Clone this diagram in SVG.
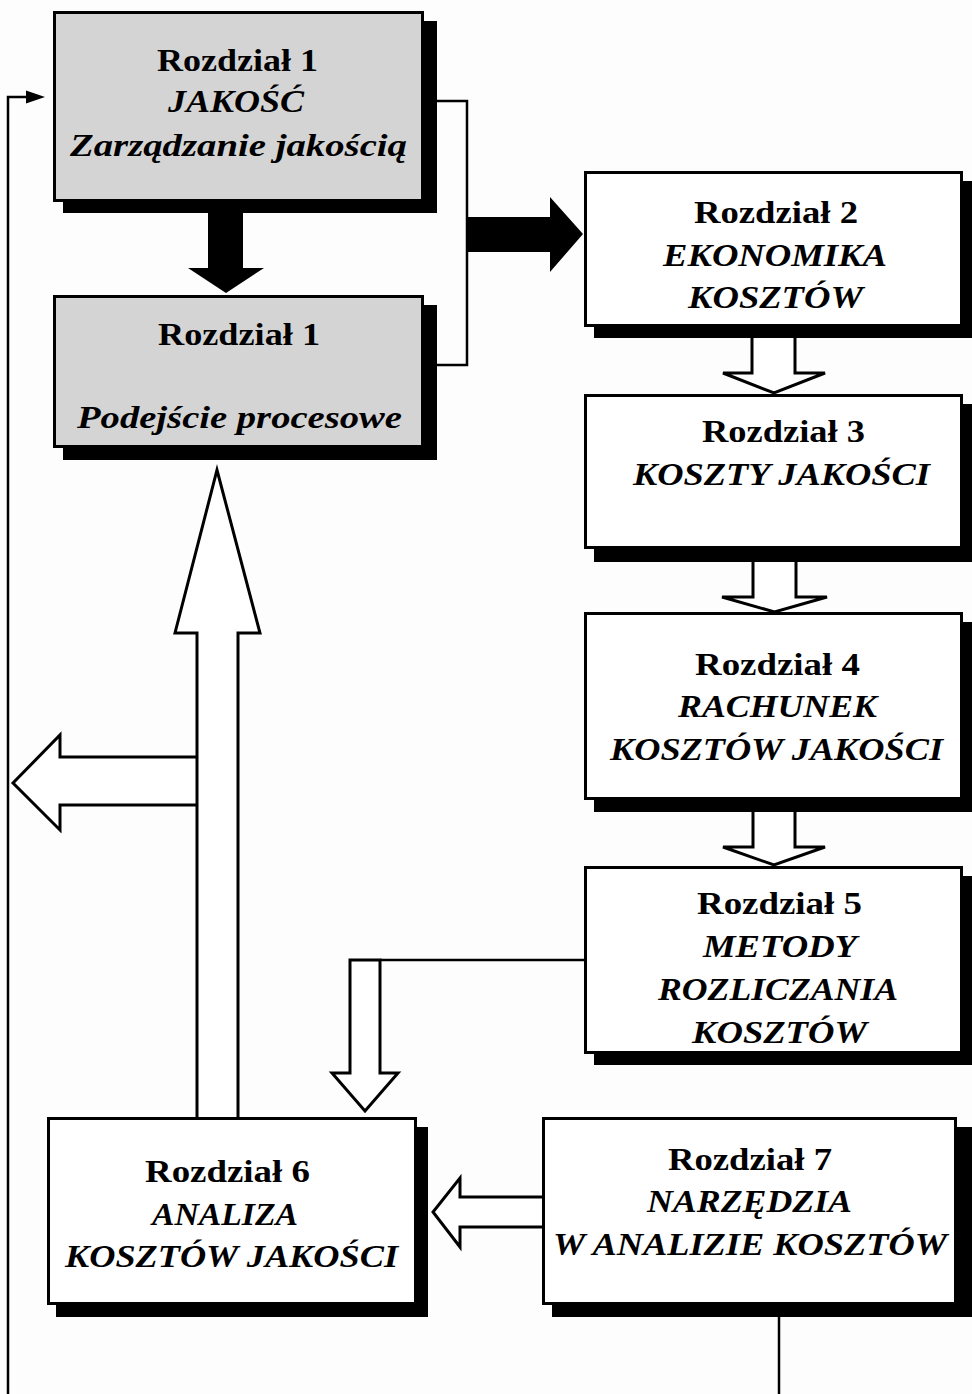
<svg xmlns="http://www.w3.org/2000/svg" width="972" height="1394" viewBox="0 0 972 1394">
<style>
.sh{fill:#000}
.bx{fill:#fff;stroke:#000;stroke-width:3}
.gr{fill:#d4d4d4;stroke:#000;stroke-width:3}
text{font-family:"Liberation Serif","Times New Roman",serif;font-weight:bold;font-size:32px;fill:#000;text-anchor:middle}
.it{font-style:italic}
.ln{fill:none;stroke:#000;stroke-width:2.5}
.ho{fill:#fff;stroke:#000;stroke-width:3;stroke-linejoin:miter}
.so{fill:#000;stroke:none}
</style>
<rect width="972" height="1394" fill="#fdfdfd"/>

<g id="connectors">
  <path class="ln" d="M8,1394 V97 H30"/>
  <polygon class="so" points="45,97 26,90.5 26,103.5"/>
  <path class="ln" d="M779,1317 V1394"/>
  <path class="ln" d="M437,101 H467 V365 H437"/>
  <polygon class="so" points="467,217 550,217 550,197 583,234 550,272 550,252 467,252"/>
  <polygon class="so" points="208,210 243,210 243,268 264,268 226,293 188,268 208,268"/>
  <path class="ho" d="M752,338 V373 H723 L774,393 L825,373 H795 V338"/>
  <path class="ho" d="M753,562 V597 H722 L774.5,612 L827,597 H796 V562"/>
  <path class="ho" d="M753,812 V847 H723 L774,865 L825,847 H795 V812"/>
  <path class="ln" d="M585,960 H380"/>
  <path class="ho" d="M380,960 H350 V1073 H332 L365,1111 L398,1073 H380 Z"/>
  <path class="ho" d="M197,757 H60 V735 L13,783 L60,830 V805 H197"/>
  <path class="ho" d="M197,1117 V633 H175 L217,470 L260,633 H238 V1117"/>
  <path class="ho" d="M542,1197 H460 V1178 L433,1212 L460,1247 V1227 H542"/>
</g>

<g id="node-r1">
  <rect class="sh" x="63" y="21" width="374" height="192"/>
  <rect class="gr" x="54.5" y="12.5" width="368" height="188"/>
  <text x="237.5" y="71" textLength="161" lengthAdjust="spacingAndGlyphs">Rozdział 1</text>
  <text class="it" x="236" y="112" textLength="136" lengthAdjust="spacingAndGlyphs">JAKOŚĆ</text>
  <text class="it" x="238.5" y="156" textLength="337" lengthAdjust="spacingAndGlyphs">Zarządzanie jakością</text>
</g>

<g id="node-r1b">
  <rect class="sh" x="63" y="305" width="374" height="155"/>
  <rect class="gr" x="54.5" y="296.5" width="368" height="150"/>
  <text x="239" y="345" textLength="162" lengthAdjust="spacingAndGlyphs">Rozdział 1</text>
  <text class="it" x="239.5" y="428" textLength="325" lengthAdjust="spacingAndGlyphs">Podejście procesowe</text>
</g>

<g id="node-r2">
  <rect class="sh" x="594" y="181" width="381" height="157"/>
  <rect class="bx" x="585.5" y="172.5" width="376" height="153"/>
  <text x="776" y="223" textLength="164" lengthAdjust="spacingAndGlyphs">Rozdział 2</text>
  <text class="it" x="775" y="266" textLength="224" lengthAdjust="spacingAndGlyphs">EKONOMIKA</text>
  <text class="it" x="775.5" y="308" textLength="175" lengthAdjust="spacingAndGlyphs">KOSZTÓW</text>
</g>

<g id="node-r3">
  <rect class="sh" x="594" y="404" width="381" height="158"/>
  <rect class="bx" x="585.5" y="395.5" width="376" height="152"/>
  <text x="783.5" y="442" textLength="163" lengthAdjust="spacingAndGlyphs">Rozdział 3</text>
  <text class="it" x="781.5" y="485" textLength="297" lengthAdjust="spacingAndGlyphs">KOSZTY JAKOŚCI</text>
</g>

<g id="node-r4">
  <rect class="sh" x="594" y="622" width="381" height="190"/>
  <rect class="bx" x="585.5" y="613.5" width="376" height="185"/>
  <text x="777.5" y="675" textLength="165" lengthAdjust="spacingAndGlyphs">Rozdział 4</text>
  <text class="it" x="777.5" y="717" textLength="199" lengthAdjust="spacingAndGlyphs">RACHUNEK</text>
  <text class="it" x="776.5" y="760" textLength="333" lengthAdjust="spacingAndGlyphs">KOSZTÓW JAKOŚCI</text>
</g>

<g id="node-r5">
  <rect class="sh" x="594" y="876" width="381" height="189"/>
  <rect class="bx" x="585.5" y="867.5" width="376" height="185"/>
  <text x="779.5" y="914" textLength="165" lengthAdjust="spacingAndGlyphs">Rozdział 5</text>
  <text class="it" x="780" y="957" textLength="154" lengthAdjust="spacingAndGlyphs">METODY</text>
  <text class="it" x="778" y="1000" textLength="240" lengthAdjust="spacingAndGlyphs">ROZLICZANIA</text>
  <text class="it" x="779.5" y="1043" textLength="175" lengthAdjust="spacingAndGlyphs">KOSZTÓW</text>
</g>

<g id="node-r6">
  <rect class="sh" x="56" y="1127" width="372" height="190"/>
  <rect class="bx" x="48.5" y="1118.5" width="367" height="185"/>
  <text x="227.5" y="1182" textLength="165" lengthAdjust="spacingAndGlyphs">Rozdział 6</text>
  <text class="it" x="225" y="1225" textLength="146" lengthAdjust="spacingAndGlyphs">ANALIZA</text>
  <text class="it" x="231.5" y="1267" textLength="333" lengthAdjust="spacingAndGlyphs">KOSZTÓW JAKOŚCI</text>
</g>

<g id="node-r7">
  <rect class="sh" x="552" y="1127" width="420" height="190"/>
  <rect class="bx" x="543.5" y="1118.5" width="412" height="185"/>
  <text x="750" y="1170" textLength="164" lengthAdjust="spacingAndGlyphs">Rozdział 7</text>
  <text class="it" x="749.5" y="1212" textLength="205" lengthAdjust="spacingAndGlyphs">NARZĘDZIA</text>
  <text class="it" x="750" y="1255" textLength="394" lengthAdjust="spacingAndGlyphs">W ANALIZIE KOSZTÓW</text>
</g>
</svg>
